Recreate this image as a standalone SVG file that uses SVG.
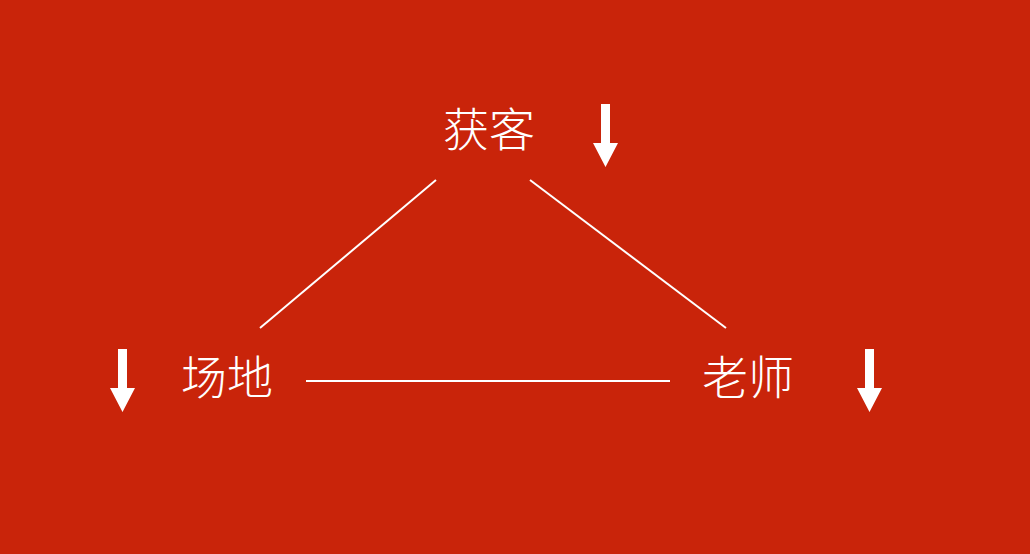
<svg xmlns="http://www.w3.org/2000/svg" width="1030" height="554" viewBox="0 0 1030 554">
<style>
.lbl{font-family:"Noto Sans CJK SC","Noto Sans",sans-serif;font-weight:300;font-size:46px;fill:#fff;text-anchor:middle;dominant-baseline:central}
.ln{stroke:#fff;stroke-width:2;fill:none}
.arr{fill:#fff}
</style>
<rect width="1030" height="554" fill="#C9240A"/>
<g id="connectors">
<line class="ln" x1="436" y1="180" x2="260" y2="328"/>
<line class="ln" x1="530" y1="180" x2="726" y2="328"/>
<line class="ln" x1="306" y1="381" x2="670" y2="381"/>
</g>
<g id="node-huoke">
<text class="lbl" x="489" y="126">获客</text>
<polygon class="arr" points="601,104 610,104 610,143 618,143 605.5,167 593,143 601,143"/>
</g>
<g id="node-changdi">
<text class="lbl" x="227" y="374">场地</text>
<polygon class="arr" points="118,349 127,349 127,388 135,388 122.5,412 110,388 118,388"/>
</g>
<g id="node-laoshi">
<text class="lbl" x="748" y="374">老师</text>
<polygon class="arr" points="865,349 874,349 874,388 882,388 869.5,412 857,388 865,388"/>
</g>
</svg>
